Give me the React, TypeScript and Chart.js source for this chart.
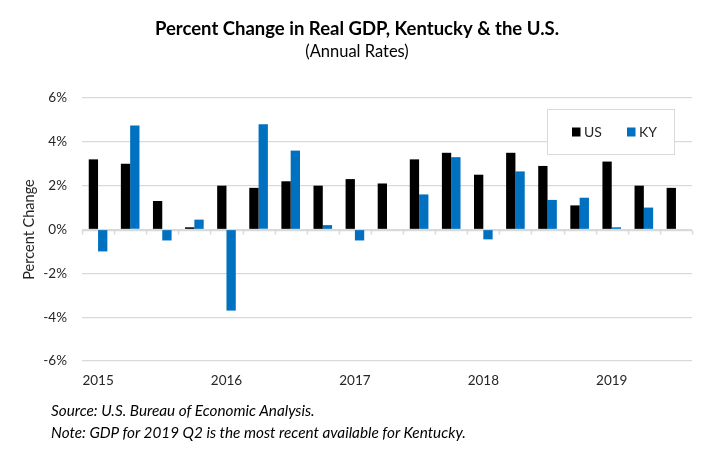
import React, { useEffect, useRef } from 'react';
import { Chart, registerables } from 'chart.js';

Chart.register(...registerables);

const quarters = [
  '2015 Q1', '2015 Q2', '2015 Q3', '2015 Q4',
  '2016 Q1', '2016 Q2', '2016 Q3', '2016 Q4',
  '2017 Q1', '2017 Q2', '2017 Q3', '2017 Q4',
  '2018 Q1', '2018 Q2', '2018 Q3', '2018 Q4',
  '2019 Q1', '2019 Q2', '2019 Q3',
];
const usGrowth = [3.2, 3.0, 1.3, 0.1, 2.0, 1.9, 2.2, 2.0, 2.3, 2.1, 3.2, 3.5, 2.5, 3.5, 2.9, 1.1, 3.1, 2.0, 1.9];
const kyGrowth = [-1.0, 4.75, -0.5, 0.45, -3.7, 4.8, 3.6, 0.2, -0.5, 0.0, 1.6, 3.3, -0.45, 2.65, 1.35, 1.45, 0.1, 1.0, null];
const seriesNames = ['US', 'KY'];
const seriesColors = ['#000000', '#0070C0'];
const yMin = -6;
const yMax = 6;
const yStep = 2;
const chartTitle = 'Percent Change in Real GDP, Kentucky & the U.S.';
const chartSubtitle = '(Annual Rates)';
const yAxisTitle = 'Percent Change';
const sourceLine = 'Source: U.S. Bureau of Economic Analysis.';
const noteLine = 'Note: GDP for 2019 Q2 is the most recent available for Kentucky.';

const FONT = 'Lato, "Open Sans", sans-serif';
const TEXT = '#262626';
const GRID = '#d9d9d9';

const zeroAxisPlugin = {
  id: 'zeroAxis',
  beforeDatasetsDraw(chart: any) {
    const { ctx, chartArea, scales } = chart;
    const x = scales.x;
    const y = scales.y;
    const y0 = Math.round(y.getPixelForValue(0)) + 0.5;
    const n = chart.data.labels.length;
    ctx.save();
    ctx.strokeStyle = GRID;
    ctx.lineWidth = 1.5;
    ctx.beginPath();
    ctx.moveTo(chartArea.left, y0);
    ctx.lineTo(chartArea.right, y0);
    for (let i = 0; i <= n; i++) {
      const px = Math.round(x.getPixelForValue(i - 0.5)) + 0.5;
      ctx.moveTo(px, y0);
      ctx.lineTo(px, y0 + 4);
    }
    ctx.stroke();
    ctx.restore();
  },
};

const boxLegendPlugin = {
  id: 'boxLegend',
  afterDraw(chart: any) {
    const { ctx, chartArea } = chart;
    const left = chartArea.right - 145;
    const top = chartArea.top + 11;
    const w = 127;
    const h = 45;
    ctx.save();
    ctx.fillStyle = '#ffffff';
    ctx.fillRect(left, top, w, h);
    ctx.strokeStyle = GRID;
    ctx.lineWidth = 1;
    ctx.strokeRect(left + 0.5, top + 0.5, w, h);
    ctx.font = `14px ${FONT}`;
    ctx.textBaseline = 'middle';
    ctx.textAlign = 'left';
    const cy = top + 23;
    const offsets = [25, 80];
    chart.data.datasets.forEach((ds: any, i: number) => {
      const sx = left + offsets[i];
      ctx.fillStyle = ds.backgroundColor;
      ctx.fillRect(sx, cy - 4.5, 8.5, 9);
      ctx.fillStyle = TEXT;
      ctx.fillText(ds.label, sx + 12, cy);
    });
    ctx.restore();
  },
};

export default function App() {
  const canvasRef = useRef<HTMLCanvasElement | null>(null);

  useEffect(() => {
    if (!canvasRef.current) return;
    const chart = new Chart(canvasRef.current, {
      type: 'bar',
      data: {
        labels: quarters,
        datasets: [
          {
            label: seriesNames[0],
            data: usGrowth,
            backgroundColor: seriesColors[0],
            borderWidth: 0,
            categoryPercentage: 0.58,
            barPercentage: 1.0,
          },
          {
            label: seriesNames[1],
            data: kyGrowth,
            backgroundColor: seriesColors[1],
            borderWidth: 0,
            categoryPercentage: 0.58,
            barPercentage: 1.0,
          },
        ],
      },
      options: {
        responsive: false,
        animation: false,
        layout: { padding: { left: 22, right: 22, top: 0, bottom: 49 } },
        plugins: {
          legend: { display: false },
          tooltip: { enabled: false },
          title: {
            display: true,
            text: chartTitle,
            color: '#000',
            font: { family: FONT, size: 18.5, weight: 'bold', lineHeight: 1.2 },
            padding: { top: 18, bottom: 2 },
          },
          subtitle: {
            display: true,
            text: chartSubtitle,
            color: '#000',
            font: { family: FONT, size: 16.5, lineHeight: 1.2 },
            padding: { top: 0, bottom: 36 },
          },
        },
        scales: {
          x: {
            offset: true,
            grid: { display: false, drawTicks: false },
            border: { display: false },
            ticks: {
              autoSkip: false,
              maxRotation: 0,
              padding: 12,
              color: TEXT,
              font: { family: FONT, size: 13.5 },
              callback: (_v: any, i: number) => (quarters[i].endsWith('Q1') ? quarters[i].split(' ')[0] : ''),
            },
            afterFit: (s: any) => { s.height = 40; },
          },
          y: {
            min: yMin,
            max: yMax,
            grid: { color: GRID, drawTicks: false, lineWidth: 1.3 },
            border: { display: false },
            ticks: {
              stepSize: yStep,
              padding: 15,
              color: TEXT,
              font: { family: FONT, size: 13.5 },
              callback: (v: any) => `${v}%`,
            },
            title: {
              display: true,
              text: yAxisTitle,
              color: TEXT,
              font: { family: FONT, size: 14.5, lineHeight: 1.0 },
              padding: { top: 0, bottom: 0 },
            },
            afterFit: (s: any) => { s.width = 60; },
          },
        },
      },
      plugins: [zeroAxisPlugin, boxLegendPlugin],
    });
    return () => chart.destroy();
  }, []);

  const noteStyle: React.CSSProperties = {
    position: 'absolute',
    left: 51,
    fontFamily: FONT,
    fontStyle: 'italic',
    fontSize: 15.3,
    lineHeight: '18px',
    color: '#000',
    whiteSpace: 'nowrap',
  };

  return (
    <div style={{ position: 'absolute', left: 0, top: 0, width: 714, height: 450, background: '#fff', overflow: 'hidden' }}>
      <canvas ref={canvasRef} width={714} height={450} style={{ display: 'block', width: 714, height: 450 }} />
      <div style={{ ...noteStyle, top: 401 }}>{sourceLine}</div>
      <div style={{ ...noteStyle, top: 423 }}>{noteLine}</div>
    </div>
  );
}
